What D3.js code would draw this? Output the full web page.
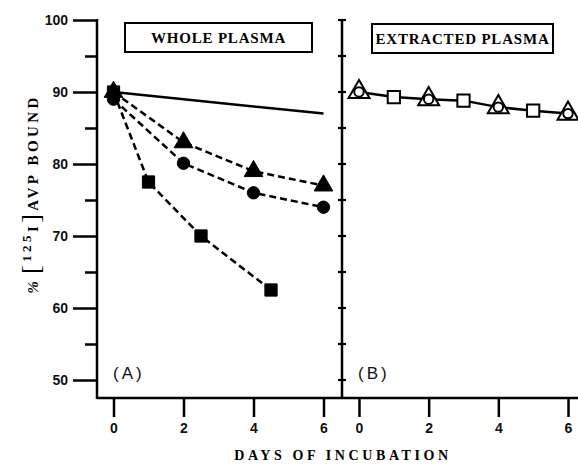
<!DOCTYPE html>
<html><head><meta charset="utf-8">
<script src="https://cdn.jsdelivr.net/npm/d3@7"></script>
<style>body{margin:0;background:#fff}svg{display:block}</style>
</head><body>
<svg id="c" width="578" height="464"></svg>
<script>
// ---- data ----
const yMajorTicks = [50, 60, 70, 80, 90, 100];
const yMinorTicks = [55, 65, 75, 85, 95];
const xTicks = [0, 2, 4, 6];
// Panel A (whole plasma)
const wholeSolid = [{d:0, v:90}, {d:6, v:87}];
const wholeTriangles = [{d:0, v:90}, {d:2, v:83}, {d:4, v:79}, {d:6, v:77}];
const wholeCircles = [{d:0, v:89}, {d:2, v:80.1}, {d:4, v:76}, {d:6, v:74}];
const wholeSquares = [{d:0, v:90}, {d:1, v:77.5}, {d:2.5, v:70}, {d:4.5, v:62.5}];
// Panel B (extracted plasma)
const extractedTriCircle = [{d:0, v:90}, {d:2, v:89}, {d:4, v:87.9}, {d:6, v:87}];
const extractedSquares = [{d:1, v:89.3}, {d:3, v:88.8}, {d:5, v:87.4}];

const svg = d3.select("#c");
const y = d3.scaleLinear().domain([50, 100]).range([380, 20]);
const xA = d3.scaleLinear().domain([0, 6]).range([113.5, 323.5]);
const xB = d3.scaleLinear().domain([0, 6]).range([359, 568]);
const sansB = "'Liberation Sans', Arial, sans-serif";
const serif = "'Liberation Serif', 'DejaVu Serif', serif";

// bottom axis line
svg.append("line").attr("x1", 97).attr("x2", 578).attr("y1", 398).attr("y2", 398)
  .attr("stroke", "#000").attr("stroke-width", 2.5);

// left axis
const gL = svg.append("g").attr("transform", "translate(97,0)");
gL.call(d3.axisLeft(y).tickValues(yMajorTicks).tickSize(24).tickPadding(5).tickFormat(d3.format("d")));
gL.append("g").call(d3.axisLeft(y).tickValues(yMinorTicks).tickSize(12).tickFormat(""));
gL.selectAll(".domain").remove();
gL.selectAll("line").attr("stroke", "#000").attr("stroke-width", 2.5);
gL.selectAll("text").attr("font-family", sansB).attr("font-weight", "bold").attr("font-size", 14).attr("fill", "#111");
gL.append("line").attr("x1", 0).attr("x2", 0).attr("y1", y(100) - 1).attr("y2", 399)
  .attr("stroke", "#000").attr("stroke-width", 2.5);

// right panel axis
const gR = svg.append("g").attr("transform", "translate(342,0)");
gR.append("line").attr("x1", 0).attr("x2", 0).attr("y1", y(100) - 1).attr("y2", 399)
  .attr("stroke", "#000").attr("stroke-width", 2.5);
gR.selectAll("line.t").data(yMajorTicks.concat(yMinorTicks)).enter().append("line")
  .attr("class", "t").attr("x1", -4).attr("x2", 4).attr("y1", d => y(d)).attr("y2", d => y(d))
  .attr("stroke", "#000").attr("stroke-width", 2.2);

// x axes
function xAxis(scale) {
  const g = svg.append("g").attr("transform", "translate(0,398)");
  g.call(d3.axisBottom(scale).tickValues(xTicks).tickSize(19).tickPadding(6).tickFormat(d3.format("d")));
  g.select(".domain").remove();
  g.selectAll("line").attr("stroke", "#000").attr("stroke-width", 2.5);
  g.selectAll("text").attr("font-family", sansB).attr("font-weight", "bold").attr("font-size", 14).attr("fill", "#111");
}
xAxis(xA); xAxis(xB);

// axis titles
svg.append("text").attr("x", 343).attr("y", 460).attr("text-anchor", "middle")
  .attr("font-family", serif).attr("font-weight", "bold").attr("font-size", 14)
  .attr("letter-spacing", 3.6).text("DAYS OF INCUBATION");

const yl = svg.append("text").attr("transform", "translate(38,194) rotate(-90)")
  .attr("text-anchor", "middle").attr("font-family", serif).attr("font-weight", "bold")
  .attr("font-size", 15).attr("letter-spacing", 3.4);
yl.append("tspan").attr("font-style", "italic").text("%");
yl.append("tspan").attr("font-size", 26).attr("font-weight", "normal").attr("dx", 4).attr("dy", 1).text("[");
yl.append("tspan").attr("font-size", 13).attr("dy", -8).text("125");
yl.append("tspan").attr("dy", 7).text("I");
yl.append("tspan").attr("font-size", 26).attr("font-weight", "normal").attr("dy", 1).text("]");
yl.append("tspan").attr("dy", -1).text("AVP BOUND");

// title boxes
function box(x0, x1, y0, y1, label) {
  svg.append("rect").attr("x", x0).attr("y", y0).attr("width", x1 - x0).attr("height", y1 - y0)
    .attr("fill", "none").attr("stroke", "#000").attr("stroke-width", 2);
  svg.append("text").attr("x", (x0 + x1) / 2).attr("y", (y0 + y1) / 2 + 5.5).attr("text-anchor", "middle")
    .attr("font-family", serif).attr("font-weight", "bold").attr("font-size", 15).attr("letter-spacing", 0.8)
    .text(label);
}
box(125, 312, 23, 52, "WHOLE PLASMA");
box(372, 553, 24, 53, "EXTRACTED PLASMA");

// panel letters
svg.append("text").attr("x", 113).attr("y", 379).attr("font-family", sansB).attr("font-size", 17)
  .attr("letter-spacing", 3).attr("fill", "#111").text("(A)");
svg.append("text").attr("x", 358).attr("y", 379).attr("font-family", sansB).attr("font-size", 17)
  .attr("letter-spacing", 3).attr("fill", "#111").text("(B)");

// lines
function line(xs) { return d3.line().x(d => xs(d.d)).y(d => y(d.v)); }
const lA = line(xA), lB = line(xB);
svg.append("path").attr("d", lA(wholeSolid)).attr("fill", "none").attr("stroke", "#000").attr("stroke-width", 2.5);
[wholeTriangles, wholeCircles, wholeSquares].forEach(s =>
  svg.append("path").attr("d", lA(s)).attr("fill", "none").attr("stroke", "#000")
    .attr("stroke-width", 2.5).attr("stroke-dasharray", "7,4"));
const allB = extractedTriCircle.concat(extractedSquares).sort((a, b) => a.d - b.d);
svg.append("path").attr("d", lB(allB)).attr("fill", "none").attr("stroke", "#000").attr("stroke-width", 2.5);

// markers
function drawSym(data, xs, type, size, fill, sw) {
  svg.append("g").selectAll("path").data(data).enter().append("path")
    .attr("transform", d => `translate(${xs(d.d)},${y(d.v)})`)
    .attr("d", d3.symbol().type(type).size(size)())
    .attr("fill", fill).attr("stroke", "#000").attr("stroke-width", sw);
}
drawSym(wholeSquares, xA, d3.symbolSquare, 150, "#000", 1);
drawSym(wholeCircles, xA, d3.symbolCircle, 120, "#000", 1);
drawSym(wholeTriangles, xA, d3.symbolTriangle, 150, "#000", 1);

drawSym(extractedSquares, xB, d3.symbolSquare, 150, "#fff", 2);
drawSym(extractedTriCircle, xB, d3.symbolTriangle, 190, "#fff", 2);
drawSym(extractedTriCircle, xB, d3.symbolCircle, 70, "#fff", 2);
</script>
</body></html>
